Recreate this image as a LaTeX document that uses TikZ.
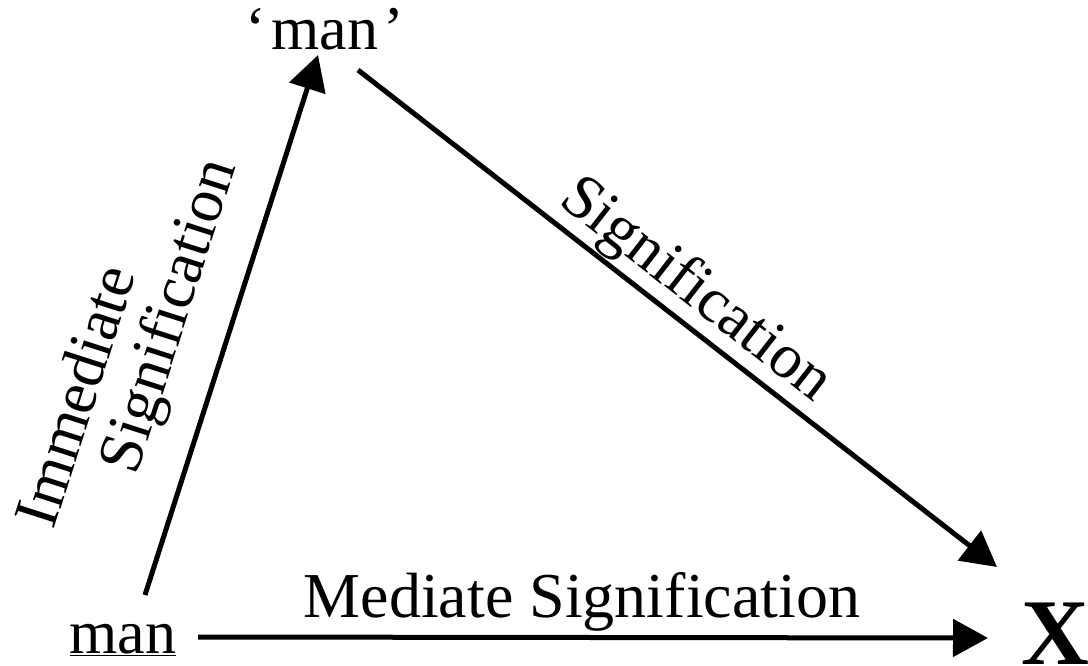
\documentclass[tikz,border=0pt]{standalone}
\usepackage{fontspec}
\setmainfont{Liberation Serif}
\usetikzlibrary{arrows.meta,calc}
\begin{document}
\begin{tikzpicture}[x=1pt,y=-1pt,
  lbl/.style={inner sep=0pt,font=\fontsize{63}{70}\selectfont},
  arr/.style={line width=5pt,-{Triangle[length=35pt,width=37pt]}}]
\useasboundingbox (0,0) rectangle (1088,666);
\node[lbl,anchor=base,font=\fontsize{62}{69}\selectfont] (qman) at (325,50) {‘\kern5pt man\kern5pt’};
\node[lbl,anchor=base,font=\fontsize{62}{69}\selectfont] (man) at (123,653) {\underline{man}};
\node[inner sep=0pt,anchor=base,font=\fontsize{94}{100}\selectfont\bfseries] (X) at (1055,664) {X};
\draw[arr] ([xshift=22pt,yshift=58pt]man.base) -- ([xshift=-7pt,yshift=-5pt]qman.base);
\draw[arr] ([xshift=33pt,yshift=-20pt]qman.base) -- ([xshift=-58pt,yshift=97pt]X.base);
\draw[arr] ([xshift=75pt,yshift=16pt]man.base) -- ([xshift=-67pt,yshift=26pt]X.base);
\node[lbl,anchor=base,font=\fontsize{64}{70}\selectfont] (med) at (582,617) {Mediate Signification};
\node[lbl,rotate=-37.9] (sig) at (695,291) {Signification};
\node[lbl,rotate=72.2] (imm1) at (74.5,395.5) {Immediate};
\node[lbl,rotate=72.2] (imm2) at (171.5,316.5) {Signification};
\end{tikzpicture}
\end{document}
